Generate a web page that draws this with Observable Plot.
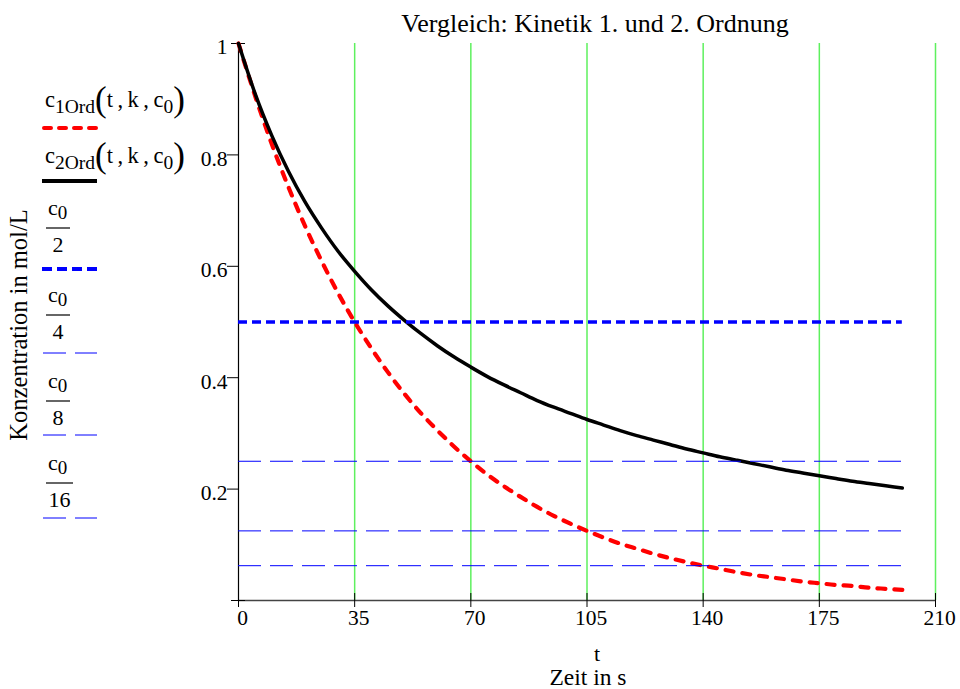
<!DOCTYPE html>
<html>
<head>
<meta charset="utf-8">
<script src="https://cdn.jsdelivr.net/npm/d3@7"></script>
<script src="https://cdn.jsdelivr.net/npm/@observablehq/plot@0.6"></script>
<style>
  html, body { margin: 0; padding: 0; background: #fff; }
  #chart { width: 960px; height: 689px; }
</style>
</head>
<body>
<div id="chart"></div>
<script>
// ---- data ----
const tValues = [0,5,10,15,20,25,30,35,40,45,50,55,60,65,70,75,80,85,90,95,100,
                 105,110,115,120,125,130,135,140,145,150,155,160,165,170,175,180,185,190,195,200];
const firstOrder = [1.000,0.906,0.820,0.743,0.673,0.610,0.552,0.500,0.453,0.410,0.371,
                    0.336,0.305,0.276,0.250,0.226,0.205,0.186,0.168,0.152,0.138,
                    0.125,0.113,0.102,0.093,0.084,0.076,0.069,0.0625,0.057,0.051,
                    0.046,0.042,0.038,0.034,0.031,0.028,0.026,0.023,0.021,0.019];
const secondOrder = [1.000,0.910,0.835,0.771,0.716,0.669,0.627,0.591,0.558,0.529,0.503,
                     0.479,0.457,0.437,0.419,0.402,0.387,0.373,0.359,0.347,0.336,
                     0.325,0.315,0.305,0.296,0.288,0.280,0.272,0.265,0.258,0.252,
                     0.246,0.240,0.234,0.229,0.224,0.219,0.214,0.210,0.206,0.202];
const halfLevel = [0.5];
const fractionLevels = [0.25, 0.125, 0.0625];
const xTicks = [0, 35, 70, 105, 140, 175, 210];
const yTicks = [0.2, 0.4, 0.6, 0.8, 1];
const yTickLabels = ["0.2", "0.4", "0.6", "0.8", "1"];
const xDomain = [0, 210];
const yDomain = [0, 1];
const titleText = "Vergleich: Kinetik 1. und 2. Ordnung";
const yLabelText = "Konzentration in mol/L";
const xVarText = "t";
const xLabelText = "Zeit in s";
const legendDenominators = ["2", "4", "8", "16"];

const rows = tValues.map((t, i) => ({t, c1: firstOrder[i], c2: secondOrder[i]}));
const tMin = d3.min(tValues), tMax = d3.max(tValues);

const FONT = "'Liberation Serif', 'Times New Roman', serif";
const BLUE = "#0000ff";

const svg = Plot.plot({
  width: 960,
  height: 689,
  marginLeft: 238,
  marginRight: 25,
  marginTop: 43,
  marginBottom: 89,
  x: {domain: xDomain},
  y: {domain: yDomain},
  style: {fontFamily: FONT, fontSize: "21px", background: "#fff", color: "#000"},
  marks: [
    // green vertical grid
    Plot.ruleX(xTicks.slice(1), {y1: yDomain[0], y2: yDomain[1], stroke: "#5ef05e", strokeWidth: 1.5}),
    // axis lines
    Plot.ruleY([yDomain[0]], {stroke: "#444", strokeWidth: 1.6}),
    Plot.ruleX([xDomain[0]], {y1: yDomain[0], y2: yDomain[1], stroke: "#000", strokeWidth: 1.2}),
    // ticks
    Plot.axisX({ticks: xTicks, tickSize: 14, dy: -7, tickFormat: () => "", stroke: "#000", label: null}),
    Plot.axisY({ticks: [yDomain[0], yDomain[1]], tickSize: 14, dx: 7, tickFormat: () => "", stroke: "#000", label: null}),
    Plot.axisY({ticks: yTicks.slice(0, -1), tickSize: 11, tickFormat: () => "", stroke: "#000", label: null}),
    // tick labels
    Plot.axisX({ticks: xTicks, tickSize: 0, tickPadding: 9, dx: 4, fontSize: 21.5, label: null, fill: "#000"}),
    Plot.axisY({ticks: yTicks, tickSize: 0, tickPadding: 11, dy: 4, fontSize: 21.5, label: null, fill: "#000",
                tickFormat: d => yTickLabels[yTicks.indexOf(d)]}),
    // curves
    Plot.line(rows, {x: "t", y: "c1", stroke: "#ff0000", strokeWidth: 4.2, strokeDasharray: "8,9",
                     strokeLinecap: "round", curve: "monotone-x"}),
    Plot.line(rows, {x: "t", y: "c2", stroke: "#000", strokeWidth: 3.5, curve: "monotone-x"}),
    Plot.ruleY(halfLevel, {x1: tMin, x2: tMax, stroke: BLUE, strokeWidth: 3.5, strokeDasharray: "9,5"}),
    Plot.ruleY(fractionLevels, {x1: tMin, x2: tMax, stroke: BLUE, strokeWidth: 1, strokeDasharray: "23,9"})
  ]
});

document.getElementById("chart").appendChild(svg);

const s = d3.select(svg);
const g = s.append("g").attr("font-family", FONT).attr("fill", "#000").attr("text-anchor", "start");

// title
g.append("text").attr("x", 595).attr("y", 32).attr("text-anchor", "middle")
  .attr("font-size", 26).text(titleText);
// y label
g.append("text").attr("transform", "translate(27,325) rotate(-90)").attr("text-anchor", "middle")
  .attr("font-size", 24.5).text(yLabelText);
// x labels
g.append("text").attr("x", 597).attr("y", 661).attr("text-anchor", "middle")
  .attr("font-size", 22).text(xVarText);
g.append("text").attr("x", 588).attr("y", 685).attr("text-anchor", "middle")
  .attr("font-size", 23.5).text(xLabelText);

// legend: function labels
function funcLabel(y, sub) {
  const t = g.append("text").attr("x", 45).attr("y", y).attr("font-size", 22.5).attr("text-anchor", "start");
  t.append("tspan").text("c");
  t.append("tspan").attr("font-size", 19.5).attr("dy", 6).text(sub);
  t.append("tspan").attr("font-size", 35).attr("dy", -2).text("(");
  t.append("tspan").attr("dy", -4).text("t\u2009,\u2009k\u2009,\u2009c");
  t.append("tspan").attr("font-size", 19.5).attr("dy", 6).text("0");
  t.append("tspan").attr("font-size", 35).attr("dy", -2).text(")");
}
funcLabel(107, "1Ord");
funcLabel(163, "2Ord");

g.append("line").attr("x1", 44).attr("x2", 96).attr("y1", 128).attr("y2", 128)
  .attr("stroke", "#ff0000").attr("stroke-width", 4).attr("stroke-dasharray", "7,8")
  .attr("stroke-linecap", "round");
g.append("line").attr("x1", 42).attr("x2", 97).attr("y1", 181).attr("y2", 181)
  .attr("stroke", "#000").attr("stroke-width", 4);

// legend: fractions
const fracY = [215, 302, 388, 470];
const lineY = [269, 353, 435, 518];
legendDenominators.forEach((den, i) => {
  const y = fracY[i];
  const barW = den.length > 1 ? 27 : 24;
  const t = g.append("text").attr("x", 48).attr("y", y).attr("font-size", 22).attr("text-anchor", "start");
  t.append("tspan").text("c");
  t.append("tspan").attr("font-size", 19).attr("dy", 4).text("0");
  g.append("line").attr("x1", 46).attr("x2", 46 + barW).attr("y1", y + 13).attr("y2", y + 13)
    .attr("stroke", "#000").attr("stroke-width", 1.2);
  g.append("text").attr("x", 46 + barW / 2).attr("y", y + 37).attr("text-anchor", "middle")
    .attr("font-size", 22).text(den);
  if (i === 0) {
    g.append("line").attr("x1", 42).attr("x2", 97).attr("y1", lineY[i]).attr("y2", lineY[i])
      .attr("stroke", BLUE).attr("stroke-width", 4).attr("stroke-dasharray", "10,5");
  } else {
    g.append("line").attr("x1", 43).attr("x2", 97).attr("y1", lineY[i]).attr("y2", lineY[i])
      .attr("stroke", BLUE).attr("stroke-width", 1).attr("stroke-dasharray", "23,9");
  }
});
</script>
</body>
</html>
